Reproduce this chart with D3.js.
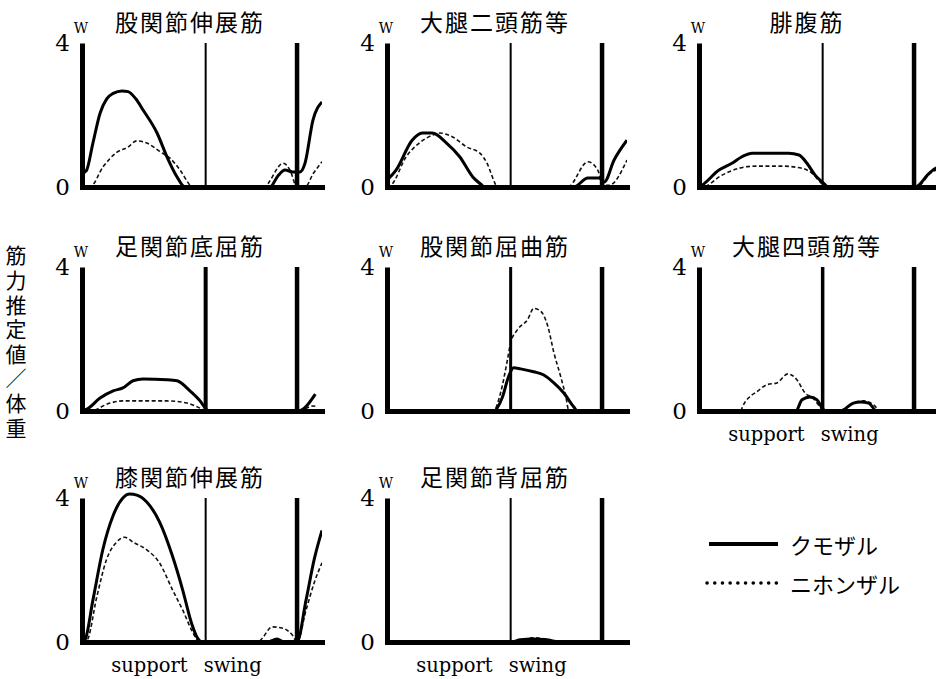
<!DOCTYPE html>
<html lang="ja">
  <head>
    <title>筋力推定値／体重</title>
    <meta charset="utf-8"/>
    <script type="text/javascript" src="https://cdn.jsdelivr.net/npm/d3@7"></script>
    <style>
     body { margin: 0; background: #fff; }
     svg { display: block; }
     .ytitle { writing-mode: vertical-rl; text-orientation: upright; font-feature-settings: "vert" 0, "vrt2" 0; }
    </style>
  </head>
  <body>
    <script type="text/javascript">
     // data: [% of gait cycle, force / body weight] ---------------------------------------
     let titles = ["股関節伸展筋", "大腿二頭筋等", "腓腹筋",
                   "足関節底屈筋", "股関節屈曲筋", "大腿四頭筋等",
                   "膝関節伸展筋", "足関節背屈筋"];
     let seriesNames = ["クモザル", "ニホンザル"];
     let yTicks = [0, 4];
     let phaseLabels = ["support", "swing"];
     let yTitle = "筋力推定値／体重";

     let hipExtKumo = [[0,0.38],[2,0.45],[5,1.2],[8.4,2.05],[11.5,2.45],[14.5,2.6],[18.6,2.67],[21.4,2.65],[25,2.45],[28.4,2.14],[34.9,1.5],[39.5,0.84],[44,0.3],[47.9,0],[87.4,0],[91,0.3],[94.4,0.47],[98,0.42],[101.4,0.42],[103.7,0.66],[107.4,1.86],[111.6,2.36]];
     let hipExtNihon = [[0,0],[3.7,0],[9.8,0.56],[16.3,0.97],[21.4,1.11],[25.4,1.28],[30.2,1.22],[36.3,0.98],[40.9,0.8],[45.6,0.47],[50.2,0.05],[51,0],[84.3,0],[93.6,0.66],[96.7,0.47],[100,0],[103.7,0],[107.6,0.38],[111.6,0.7]];

     let bicepsKumo = [[0,0.19],[4.2,0.47],[11.7,1.3],[16.4,1.5],[21.1,1.5],[27.7,1.22],[33.8,0.84],[39.9,0.28],[44.1,0.05],[45,0],[86.9,0],[93.4,0.25],[98.6,0.25],[101,0.14],[105.6,0.75],[111.6,1.3]];
     let bicepsNihon = [[0,0],[1.9,0.05],[8.9,0.84],[15,1.22],[21.1,1.44],[24.4,1.5],[30.5,1.39],[37.1,1.11],[43.2,0.94],[46.5,0.66],[50.2,0.1],[51,0],[84,0],[93.4,0.7],[98,0.47],[100.5,0.05],[103.3,0.05],[111.6,0.75]];

     let gastroKumo = [[0,0],[1.4,0.05],[9.3,0.47],[15.3,0.66],[20,0.84],[24.7,0.94],[41.7,0.94],[46.5,0.89],[50.2,0.66],[54,0.33],[58,0.1],[60,0],[100.5,0],[107,0.38],[110,0.52],[111.6,0.56]];
     let gastroNihon = [[0,0],[1.5,0],[10.7,0.33],[18.6,0.52],[26,0.58],[38.6,0.58],[47.9,0.52],[52.6,0.38],[56.3,0.14],[59,0],[101,0],[108.4,0.42],[111.6,0.5]];

     let plantarKumo = [[0,0],[2.3,0.05],[8.4,0.36],[14.5,0.56],[19,0.64],[23.7,0.84],[28.4,0.89],[39.5,0.87],[44.2,0.84],[50.2,0.56],[54.9,0.28],[57.7,0.05],[58.5,0],[100.5,0],[108.5,0.47]];
     let plantarNihon = [[0,0],[3.7,0],[13,0.22],[19,0.28],[39.5,0.28],[48.8,0.22],[54.9,0.08],[57.7,0],[101,0],[107.4,0.14],[109,0.12]];

     let hipFlexKumo = [[0,0.05],[1,0],[49.5,0],[53.7,0.39],[56.5,0.95],[58.9,1.2],[62.1,1.17],[68.2,1.09],[72.9,1.0],[77.6,0.78],[82.2,0.5],[86.9,0.11],[88.5,0],[111.6,0]];
     let hipFlexNihon = [[0,0],[49.5,0],[52.8,0.5],[56,1.42],[57.5,1.9],[60.7,2.26],[65.4,2.54],[68.2,2.85],[71.5,2.77],[74.8,2.35],[77.6,1.62],[80.8,0.95],[83.2,0.39],[84.6,0],[111.6,0]];

     let quadKumo = [[0,0],[45,0],[47.9,0.31],[51.6,0.39],[54.9,0.31],[57.3,0.08],[58.7,0],[65.7,0],[71.8,0.22],[75.1,0.25],[78.9,0.22],[82.6,0],[111.6,0]];
     let quadNihon = [[19.5,0],[20.2,0.11],[23.5,0.39],[26.8,0.53],[31.5,0.73],[36.2,0.78],[41.3,1.03],[45.5,0.87],[49.3,0.5],[53,0.36],[56.3,0.11],[58,0],[65.7,0],[71.8,0.22],[76.5,0.28],[81.2,0.17],[83.6,0]];

     let kneeKumo = [[0,0],[1.4,0.06],[5.1,1.17],[9.7,2.57],[14.4,3.5],[19,4.0],[22.2,4.11],[25.5,4.08],[30.1,3.89],[36.1,3.33],[42.1,2.38],[46.8,1.45],[50.9,0.53],[53.7,0.11],[56,0],[86,0],[90.7,0.08],[94,0],[100,0],[104.2,1.17],[108,2.3],[111.6,3.1]];
     let kneeNihon = [[0,0],[2.3,0.05],[6.9,1.26],[11.4,2.29],[16,2.77],[19.9,2.91],[23.8,2.77],[29.9,2.57],[36,2.2],[42.1,1.45],[46.8,0.89],[51.4,0.28],[54.6,0],[82,0],[83.9,0.11],[88.4,0.42],[93,0.39],[97.7,0.2],[100,0],[104.2,0.89],[108,1.65],[111.6,2.2]];

     let dorsiKumo = [[0,0],[57.7,0],[62,0.06],[68,0.08],[74,0.06],[81,0],[111.6,0]];
     let dorsiNihon = [[0,0],[57.7,0],[63,0.07],[68,0.12],[74,0.08],[81,0],[111.6,0]];

     let kumoSeries = [hipExtKumo, bicepsKumo, gastroKumo, plantarKumo, hipFlexKumo, quadKumo, kneeKumo, dorsiKumo];
     let nihonSeries = [hipExtNihon, bicepsNihon, gastroNihon, plantarNihon, hipFlexNihon, quadNihon, kneeNihon, dorsiNihon];

     let toeOff = 57.5;   // end of support phase, % of cycle
     let xMax = 111.6;    // each panel runs a little into the next cycle

     // layout ------------------------------------------------------------------------
     let W = 936, H = 679;
     let colLeft = [82, 387, 699];
     let rowTop = [43, 267, 498];
     let ph = 144;              // panel height (0..4)
     let pw = 240;              // panel width (0..xMax)
     let midWidth = [2, 2, 2, 4, 3, 3.5, 2, 2];
     let showPhase = [false, false, false, false, false, true, true, true];
     let serif = "DejaVu Serif, Liberation Serif, serif";
     let gothic = "Noto Sans CJK JP";

     let svg = d3.select("body").append("svg")
       .attr("width", W)
       .attr("height", H);

     let line = d3.line().curve(d3.curveMonotoneX);

     titles.forEach((title, i) => {
       let left = colLeft[i % 3];
       let top = rowTop[Math.floor(i / 3)];
       let x = d3.scaleLinear().domain([0, xMax]).range([left, left + pw]);
       let y = d3.scaleLinear().domain([0, 4]).range([top + ph, top]);
       let g = svg.append("g");

       g.append("clipPath").attr("id", "clip" + i)
        .append("rect")
        .attr("x", left).attr("y", top - 20)
        .attr("width", pw).attr("height", ph + 25);

       line.x(d => x(d[0])).y(d => y(d[1]));

       // curves
       g.append("path")
        .datum(nihonSeries[i])
        .attr("clip-path", "url(#clip" + i + ")")
        .attr("d", line)
        .attr("fill", "none")
        .attr("stroke", "#111")
        .attr("stroke-width", 1.6)
        .attr("stroke-dasharray", "4,2.5");

       g.append("path")
        .datum(kumoSeries[i])
        .attr("clip-path", "url(#clip" + i + ")")
        .attr("d", line)
        .attr("fill", "none")
        .attr("stroke", "#000")
        .attr("stroke-width", 3)
        .attr("stroke-linejoin", "round");

       // toe-off line and next foot strike line
       g.append("line")
        .attr("x1", x(toeOff)).attr("x2", x(toeOff))
        .attr("y1", y(0)).attr("y2", y(4))
        .attr("stroke", "#000")
        .attr("stroke-width", midWidth[i]);

       g.append("line")
        .attr("x1", x(100)).attr("x2", x(100))
        .attr("y1", y(0)).attr("y2", y(4))
        .attr("stroke", "#000")
        .attr("stroke-width", 4.5);

       // axes
       let yAxis = g.append("g")
        .attr("transform", "translate(" + left + ",0)")
        .call(d3.axisLeft(y).tickValues(yTicks).tickFormat(d3.format("d")).tickSize(0).tickPadding(12))
        .attr("font-family", serif)
        .attr("font-size", 23);
       yAxis.select(".domain").attr("stroke-width", 5);
       yAxis.selectAll("text").attr("fill", "#000");

       let xAxis = g.append("g")
        .attr("transform", "translate(0," + y(0) + ")")
        .call(d3.axisBottom(x).tickValues([]).tickSizeOuter(0));
       xAxis.select(".domain")
        .attr("stroke-width", 5)
        .attr("stroke-linecap", "square");

       g.append("text")
        .attr("font-family", serif)
        .attr("font-size", 14)
        .attr("x", left - 1)
        .attr("y", top - 10)
        .attr("text-anchor", "middle")
        .text("W");

       g.append("text")
        .attr("font-family", gothic)
        .attr("font-size", 23)
        .attr("x", left + 108)
        .attr("y", top - 22)
        .attr("text-anchor", "middle")
        .attr("dominant-baseline", "central")
        .attr("letter-spacing", 2)
        .text(title);

       if (showPhase[i]) {
         g.append("text")
          .attr("font-family", serif)
          .attr("font-size", 19.5)
          .attr("x", x(toeOff) - 18)
          .attr("y", y(0) + 30)
          .attr("text-anchor", "end")
          .text(phaseLabels[0]);
         g.append("text")
          .attr("font-family", serif)
          .attr("font-size", 19.5)
          .attr("x", x(toeOff) - 2)
          .attr("y", y(0) + 30)
          .text(phaseLabels[1]);
       }
     });

     // y title, written vertically ------------------------------------------------------
     svg.append("text")
       .attr("class", "ytitle")
       .attr("font-family", gothic)
       .attr("font-size", 21)
       .attr("letter-spacing", 3.6)
       .attr("x", 16)
       .attr("y", 245)
       .text(yTitle);

     // legend ------------------------------------------------------------------------
     let legend = svg.append("g");
     legend.append("line")
       .attr("x1", 709).attr("x2", 778)
       .attr("y1", 544).attr("y2", 544)
       .attr("stroke", "#000")
       .attr("stroke-width", 4);
     legend.append("line")
       .attr("x1", 707).attr("x2", 778)
       .attr("y1", 583).attr("y2", 583)
       .attr("stroke", "#000")
       .attr("stroke-width", 3.5)
       .attr("stroke-linecap", "round")
       .attr("stroke-dasharray", "0.1,7.6");
     legend.selectAll("text.leg")
       .data(seriesNames)
       .enter()
       .append("text")
       .attr("font-family", gothic)
       .attr("font-size", 22)
       .attr("x", 790)
       .attr("y", (d, i) => 544 + i * 39)
       .attr("dominant-baseline", "central")
       .text(d => d);
    </script>
  </body>
</html>
